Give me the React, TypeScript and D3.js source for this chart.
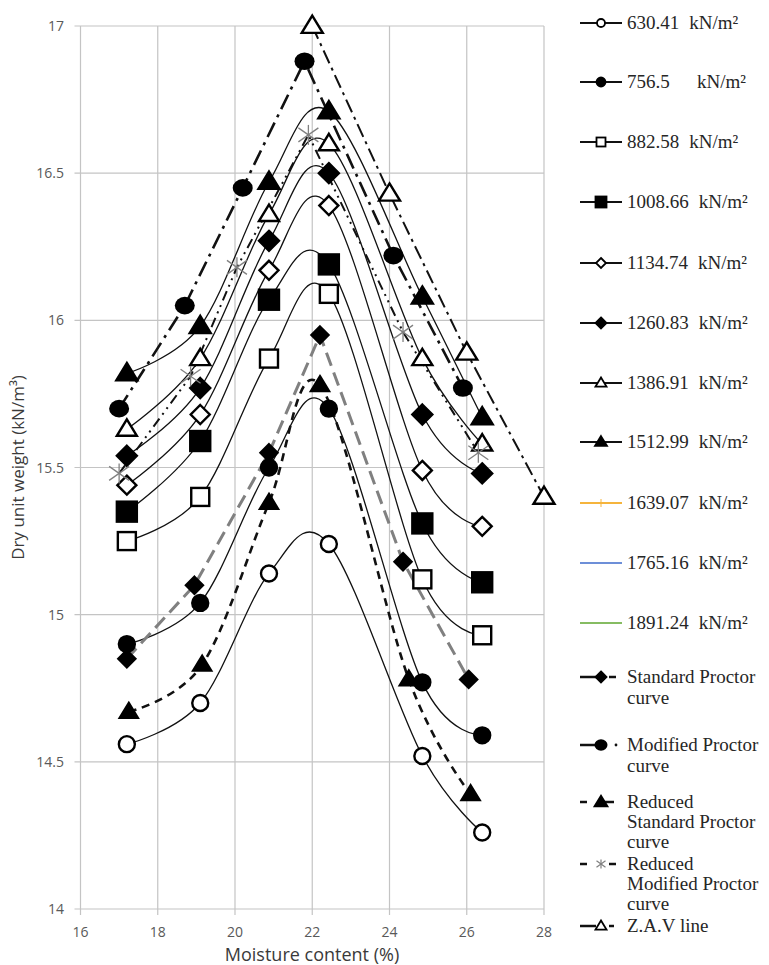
import React from "react";
import * as d3 from "d3";

// ---------- DATA ----------
const xTicks = [16, 18, 20, 22, 24, 26, 28];
const yTicks = [14, 14.5, 15, 15.5, 16, 16.5, 17];

const pressX = [17.2, 19.1, 20.88, 22.43, 24.85, 26.4];
const p630 = [14.56, 14.7, 15.14, 15.24, 14.52, 14.26];
const p756 = [14.9, 15.04, 15.5, 15.7, 14.77, 14.59];
const p882 = [15.25, 15.4, 15.87, 16.09, 15.12, 14.93];
const p1008 = [15.35, 15.59, 16.07, 16.19, 15.31, 15.11];
const p1134 = [15.44, 15.68, 16.17, 16.39, 15.49, 15.3];
const p1260 = [15.54, 15.77, 16.27, 16.5, 15.68, 15.48];
const p1386 = [15.63, 15.87, 16.36, 16.6, 15.87, 15.58];
const p1512 = [15.82, 15.98, 16.47, 16.71, 16.08, 15.67];

const stdX = [17.2, 18.95, 20.88, 22.2, 24.35, 26.05];
const stdY = [14.85, 15.1, 15.55, 15.95, 15.18, 14.78];
const modX = [17.0, 18.7, 20.2, 21.8, 24.1, 25.9];
const modY = [15.7, 16.05, 16.45, 16.88, 16.22, 15.77];
const redStdX = [17.25, 19.15, 20.88, 22.2, 24.5, 26.1];
const redStdY = [14.67, 14.83, 15.38, 15.78, 14.78, 14.39];
const redModX = [17.0, 18.85, 20.05, 21.9, 24.35, 26.3];
const redModY = [15.48, 15.81, 16.18, 16.63, 15.96, 15.55];
const zavX = [22, 24, 26, 28];
const zavY = [17.0, 16.43, 15.89, 15.4];

const legendNames = [
  ["630.41"], ["756.5"], ["882.58"], ["1008.66"], ["1134.74"], ["1260.83"],
  ["1386.91"], ["1512.99"], ["1639.07"], ["1765.16"], ["1891.24"],
  ["Standard Proctor", "curve"],
  ["Modified Proctor", "curve"],
  ["Reduced", "Standard Proctor", "curve"],
  ["Reduced", "Modified Proctor", "curve"],
  ["Z.A.V line"],
];
const unit = "kN/m²";

// ---------- LAYOUT / STYLE ----------
const W = 769, H = 965;
const xs = d3.scaleLinear().domain([16, 28]).range([80.5, 544]);
const ys = d3.scaleLinear().domain([14, 17]).range([909, 26]);

const zip = (a: number[], b: number[]) => a.map((v, i) => [v, b[i]] as [number, number]);

type Series = {
  pts: [number, number][];
  shape: string;
  filled: boolean;
  size: number;
  smooth: boolean;
  stroke: string;
  width: number;
  dash?: string;
};

const series: Series[] = [
  { pts: zip(pressX, p630), shape: "circle", filled: false, size: 16, smooth: true, stroke: "#111", width: 1.3 },
  { pts: zip(pressX, p756), shape: "circle", filled: true, size: 16, smooth: true, stroke: "#111", width: 1.3 },
  { pts: zip(pressX, p882), shape: "square", filled: false, size: 18, smooth: true, stroke: "#111", width: 1.3 },
  { pts: zip(pressX, p1008), shape: "square", filled: true, size: 20, smooth: true, stroke: "#111", width: 1.3 },
  { pts: zip(pressX, p1134), shape: "diamond", filled: false, size: 19, smooth: true, stroke: "#111", width: 1.3 },
  { pts: zip(pressX, p1260), shape: "diamond", filled: true, size: 20, smooth: true, stroke: "#111", width: 1.3 },
  { pts: zip(pressX, p1386), shape: "triangle", filled: false, size: 20, smooth: true, stroke: "#111", width: 1.3 },
  { pts: zip(pressX, p1512), shape: "triangle", filled: true, size: 21, smooth: true, stroke: "#111", width: 1.3 },
  { pts: zip(stdX, stdY), shape: "diamond", filled: true, size: 17, smooth: false, stroke: "#808080", width: 3, dash: "14,7" },
  { pts: zip(redModX, redModY), shape: "star", filled: false, size: 20, smooth: false, stroke: "#111", width: 2, dash: "10,5,2,5,2,5" },
  { pts: zip(redStdX, redStdY), shape: "triangle", filled: true, size: 18, smooth: true, stroke: "#111", width: 2.6, dash: "8,6" },
  { pts: zip(modX, modY), shape: "bigcircle", filled: true, size: 20, smooth: false, stroke: "#111", width: 2.6, dash: "16,6,3,6" },
  { pts: zip(zavX, zavY), shape: "triangle", filled: false, size: 21, smooth: false, stroke: "#111", width: 2, dash: "14,5,3,5" },
];

function Marker({ shape, cx, cy, s, filled, legend }: any) {
  const fill = filled ? "#000" : "#fff";
  const sw = legend ? 1.8 : 2.4;
  const h = s / 2;
  if (shape === "circle") return <circle cx={cx} cy={cy} r={h} fill={fill} stroke="#000" strokeWidth={sw} />;
  if (shape === "bigcircle") return <ellipse cx={cx} cy={cy} rx={h} ry={h * 0.88} fill="#000" />;
  if (shape === "square")
    return <rect x={cx - h} y={cy - h} width={s} height={s} fill={fill} stroke="#000" strokeWidth={sw} />;
  if (shape === "diamond")
    return (
      <polygon
        points={`${cx},${cy - h} ${cx + h},${cy} ${cx},${cy + h} ${cx - h},${cy}`}
        fill={fill}
        stroke="#000"
        strokeWidth={sw}
        strokeLinejoin="miter"
      />
    );
  if (shape === "triangle") {
    const th = s * 0.82;
    return (
      <polygon
        points={`${cx},${cy - th * 0.6} ${cx + h},${cy + th * 0.4} ${cx - h},${cy + th * 0.4}`}
        fill={fill}
        stroke="#000"
        strokeWidth={sw}
        strokeLinejoin="miter"
      />
    );
  }
  if (shape === "star")
    return (
      <g stroke="#808080" strokeWidth={legend ? 1.2 : 1.3} fill="none">
        <line x1={cx - h} y1={cy - h * 0.7} x2={cx + h} y2={cy + h * 0.7} />
        <line x1={cx - h} y1={cy + h * 0.7} x2={cx + h} y2={cy - h * 0.7} />
        <line x1={cx} y1={cy - h} x2={cx} y2={cy + h} />
      </g>
    );
  return null;
}

const legendRowY = [23, 82, 142, 202, 263, 323, 383, 442, 503, 563, 623, 677, 745, 802, 864, 926];
const legendLineGap = [21, 21, 21, 21, 21, 21, 21, 21, 21, 21, 21, 21, 21, 20, 20, 21];
const legendMarker = [
  { shape: "circle", filled: false, s: 8 },
  { shape: "circle", filled: true, s: 9 },
  { shape: "square", filled: false, s: 9 },
  { shape: "square", filled: true, s: 11 },
  { shape: "diamond", filled: false, s: 10 },
  { shape: "diamond", filled: true, s: 11 },
  { shape: "triangle", filled: false, s: 11 },
  { shape: "triangle", filled: true, s: 12 },
  null, null, null,
  { shape: "diamond", filled: true, s: 11 },
  { shape: "bigcircle", filled: true, s: 13 },
  { shape: "triangle", filled: true, s: 13 },
  { shape: "star", filled: false, s: 9 },
  { shape: "triangle", filled: false, s: 11 },
];
const legendLineColors = ["#f5b43c", "#6d8fd8", "#86bc62"];

export default function App() {
  const curveFor = (s: Series) => (s.smooth ? d3.curveCardinal.tension(0) : d3.curveLinear);
  const tickFont = "'Open Sans', 'Liberation Sans', sans-serif";
  const serif = "'Liberation Serif', 'Times New Roman', serif";

  return (
    <svg width={W} height={H} style={{ position: "absolute", left: 0, top: 0, background: "#fff" }}>
      <rect width={W} height={H} fill="#fff" />
      {/* grid */}
      <g stroke="#c4c4c4" strokeWidth={1.2}>
        {xTicks.map((t) => (
          <line key={"gx" + t} x1={xs(t)} x2={xs(t)} y1={ys(17)} y2={ys(14) + 6} />
        ))}
        {yTicks.map((t) => (
          <line key={"gy" + t} x1={xs(16) - 6} x2={xs(28)} y1={ys(t)} y2={ys(t)} />
        ))}
      </g>
      {/* tick labels */}
      <g fontFamily={tickFont} fontSize={14} fill="#595959">
        {yTicks.map((t) => (
          <text key={"ty" + t} x={64} y={ys(t) + 5} textAnchor="end">
            {d3.format("")(t)}
          </text>
        ))}
        {xTicks.map((t) => (
          <text key={"tx" + t} x={xs(t)} y={937} textAnchor="middle">
            {t}
          </text>
        ))}
      </g>
      <text x={312} y={961} textAnchor="middle" fontFamily={tickFont} fontSize={18} fill="#3a3a3a">
        Moisture content (%)
      </text>
      <text
        transform={`translate(24, ${ys(15.5)}) rotate(-90)`}
        textAnchor="middle"
        fontFamily={tickFont}
        fontSize={17}
        fill="#3a3a3a"
      >
        Dry unit weight (kN/m³)
      </text>

      {/* lines */}
      {series.map((s, i) => {
        const gen = d3
          .line<[number, number]>()
          .x((d) => xs(d[0]))
          .y((d) => ys(d[1]))
          .curve(curveFor(s));
        return (
          <path
            key={"l" + i}
            d={gen(s.pts) || ""}
            fill="none"
            stroke={s.stroke}
            strokeWidth={s.width}
            strokeDasharray={s.dash}
          />
        );
      })}
      {/* markers */}
      {series.map((s, i) => (
        <g key={"m" + i}>
          {s.pts.map((p, j) => (
            <Marker key={j} shape={s.shape} cx={xs(p[0])} cy={ys(p[1])} s={s.size} filled={s.filled} />
          ))}
        </g>
      ))}

      {/* legend */}
      <g fontFamily={serif} fontSize={19} fill="#262626">
        {legendNames.map((lines, i) => {
          const yy = legendRowY[i];
          const mk = legendMarker[i];
          let lineEls: any = null;
          if (i < 8) {
            lineEls = <line x1={580} x2={622} y1={yy} y2={yy} stroke="#111" strokeWidth={2} />;
          } else if (i < 11) {
            const c = legendLineColors[i - 8];
            lineEls = (
              <g>
                <line x1={580} x2={622} y1={yy} y2={yy} stroke={c} strokeWidth={2} />
                {i === 8 && <line x1={601} x2={601} y1={yy - 4} y2={yy + 4} stroke={c} strokeWidth={1} />}
              </g>
            );
          } else if (i === 11) {
            lineEls = (
              <g stroke="#111" strokeWidth={2.5}>
                <line x1={580} x2={596} y1={yy} y2={yy} />
                <line x1={609} x2={616} y1={yy} y2={yy} />
              </g>
            );
          } else if (i === 12) {
            lineEls = (
              <g>
                <line x1={580} x2={596} y1={yy} y2={yy} stroke="#111" strokeWidth={2.5} />
                <circle cx={616} cy={yy} r={1.4} fill="#111" />
              </g>
            );
          } else if (i === 13) {
            lineEls = (
              <g stroke="#111" strokeWidth={2.5}>
                <line x1={580} x2={587} y1={yy} y2={yy} />
                <line x1={603} x2={614} y1={yy} y2={yy} />
              </g>
            );
          } else if (i === 14) {
            lineEls = (
              <g stroke="#111" strokeWidth={2.5}>
                <line x1={580} x2={587} y1={yy} y2={yy} />
                <line x1={609} x2={616} y1={yy} y2={yy} />
              </g>
            );
          } else {
            lineEls = (
              <g stroke="#111" strokeWidth={2.5}>
                <line x1={580} x2={596} y1={yy} y2={yy} />
                <line x1={609} x2={614} y1={yy} y2={yy} />
              </g>
            );
          }
          return (
            <g key={"lg" + i}>
              {lineEls}
              {mk && <Marker shape={mk.shape} cx={601} cy={yy} s={mk.s} filled={mk.filled} legend />}
              {i < 11 ? (
                <text x={627} y={yy + 6}>
                  {lines[0]}
                  <tspan x={i === 1 ? 697 : undefined} dx={i === 1 ? undefined : 10}>
                    {unit}
                  </tspan>
                </text>
              ) : (
                lines.map((ln, k) => (
                  <text key={k} x={627} y={yy + 6 + k * legendLineGap[i]}>
                    {ln}
                  </text>
                ))
              )}
            </g>
          );
        })}
      </g>
    </svg>
  );
}
